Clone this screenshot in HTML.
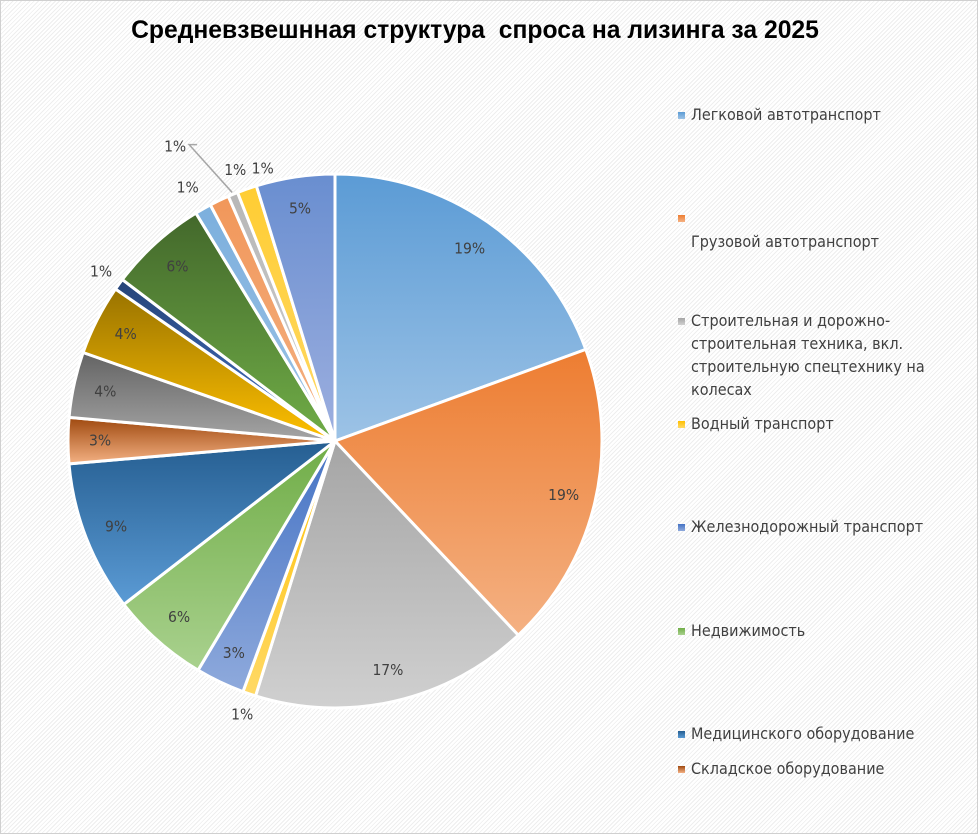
<!DOCTYPE html>
<html><head><meta charset="utf-8">
<style>
html,body{margin:0;padding:0;}
body{width:978px;height:834px;overflow:hidden;font-family:"Liberation Sans","DejaVu Sans",sans-serif;}
#chart{position:absolute;left:0;top:0;width:976px;height:832px;border:1px solid #d0d0d0;
background:repeating-linear-gradient(135deg,#ffffff 0px,#ffffff 2px,#eeeeee 2px,#eeeeee 3px);}
#title{position:absolute;left:0;width:948px;top:16px;text-align:center;font-weight:bold;font-size:24.7px;color:#000;}
.leg{position:absolute;left:677px;font-size:16px;color:#404040;line-height:25px;width:290px;font-family:"DejaVu Sans Condensed","Liberation Sans",sans-serif;}
.leg .mk{position:absolute;left:0;width:7px;height:7px;}
.leg .tx{position:absolute;left:13px;}
</style></head>
<body>
<div id="chart">
<div id="title">Средневзвешнная структура&nbsp; спроса на лизинга за 2025</div>
<svg id="pie" width="978" height="834" style="position:absolute;left:0;top:0"><defs id="defs"></defs></svg>

<div class="leg" style="top:101px"><span class="mk" style="top:10px;background:linear-gradient(#5b9bd5,#9dc3e6)"></span><span class="tx">Легковой автотранспорт</span></div>
<div class="leg" style="top:204px"><span class="mk" style="top:10px;background:linear-gradient(#ed7d31,#f4b183)"></span><span class="tx" style="top:24px">Грузовой автотранспорт</span></div>
<div class="leg" style="top:308px"><span class="mk" style="top:9px;background:linear-gradient(#a5a5a5,#d0d0d0)"></span><span class="tx" style="line-height:23px;width:262px">Строительная и дорожно-строительная техника, вкл. строительную спецтехнику на колесах</span></div>
<div class="leg" style="top:410px"><span class="mk" style="top:10px;background:linear-gradient(#ffc000,#ffd966)"></span><span class="tx">Водный транспорт</span></div>
<div class="leg" style="top:513px"><span class="mk" style="top:10px;background:linear-gradient(#4472c4,#8faadc)"></span><span class="tx">Железнодорожный транспорт</span></div>
<div class="leg" style="top:617px"><span class="mk" style="top:10px;background:linear-gradient(#70ad47,#a9d18e)"></span><span class="tx">Недвижимость</span></div>
<div class="leg" style="top:720px"><span class="mk" style="top:10px;background:linear-gradient(#255e91,#5b9bd5)"></span><span class="tx">Медицинского оборудование</span></div>
<div class="leg" style="top:755px"><span class="mk" style="top:10px;background:linear-gradient(#9e480e,#f4b183)"></span><span class="tx">Складское оборудование</span></div>
</div>
<script>
const categories=["Легковой автотранспорт","Грузовой автотранспорт","Строительная техника","Водный транспорт","Железнодорожный транспорт","Недвижимость","Медицинское оборудование","Складское оборудование","Категория 9","Категория 10","Категория 11","Категория 12","Категория 13","Категория 14","Категория 15","Категория 16","Категория 17"];
const values=[19.6,18.7,17.0,0.8,3.0,6.0,9.2,2.8,4.0,4.3,0.7,6.0,1.0,1.2,0.6,1.2,4.8];
const labels=["19%","19%","17%","1%","3%","6%","9%","3%","4%","4%","1%","6%","1%","1%","1%","1%","5%"];
const colorsTop=["#5b9bd5","#ed7d31","#a5a5a5","#ffc000","#4472c4","#70ad47","#255e91","#9e480e","#636363","#997300","#264478","#43682b","#7cafdd","#f1975a","#b7b7b7","#ffcd33","#698ed0"];
const colorsBot=["#9dc3e6","#f4b183","#d0d0d0","#ffd966","#8faadc","#a9d18e","#5b9bd5","#f4b183","#a5a5a5","#ffc000","#4472c4","#70ad47","#9dc3e6","#f4b183","#d0d0d0","#ffd966","#9dafdf"];
// label placement tweaks for crowded small slices (style only): [extra radius, angle shift in radians]
const labelNudge={12:[4,-0.01],13:[0,0.096],14:[45,-0.1],15:[-7,0.077]};
const svg=document.getElementById('pie'),defs=document.getElementById('defs'),NS="http://www.w3.org/2000/svg";
const cx=334,cy=440,R=267;
const total=values.reduce((a,b)=>a+b,0);
function pt(a,r){return [cx+r*Math.sin(a),cy-r*Math.cos(a)];}
let acc=0;
values.forEach((v,i)=>{
  const a0=acc/total*2*Math.PI;acc+=v;const a1=acc/total*2*Math.PI;
  const g=document.createElementNS(NS,'linearGradient');g.id='g'+i;g.setAttribute('x1','0');g.setAttribute('y1','0');g.setAttribute('x2','0');g.setAttribute('y2','1');
  g.innerHTML='<stop offset="0" stop-color="'+colorsTop[i]+'"/><stop offset="1" stop-color="'+colorsBot[i]+'"/>';
  defs.appendChild(g);
  const p0=pt(a0,R),p1=pt(a1,R);
  const path=document.createElementNS(NS,'path');
  path.setAttribute('d','M'+cx+','+cy+'L'+p0[0]+','+p0[1]+'A'+R+','+R+' 0 '+((a1-a0)>Math.PI?1:0)+' 1 '+p1[0]+','+p1[1]+'Z');
  path.setAttribute('fill','url(#g'+i+')');path.setAttribute('stroke','#fff');path.setAttribute('stroke-width','3');
  
  
  svg.appendChild(path);
});
acc=0;
values.forEach((v,i)=>{
  let am=(acc+v/2)/total*2*Math.PI;acc+=v;
  const small=v/total<0.015;
  let r=small?R+22:R*0.88;
  const nd=labelNudge[i];
  if(nd){r+=nd[0];am+=nd[1];}
  const p=pt(am,r);
  if(nd&&nd[0]>30){
    const e=pt((acc-v/2)/total*2*Math.PI,R+2);
    const ln=document.createElementNS(NS,'polyline');
    ln.setAttribute('points',e[0]+','+e[1]+' '+(p[0]+12)+','+(p[1]-2)+' '+(p[0]+20)+','+(p[1]-2));
    ln.setAttribute('fill','none');ln.setAttribute('stroke','#a6a6a6');ln.setAttribute('stroke-width','1.5');
    
    
    svg.appendChild(ln);
    p[0]-=2;
  }
  const t=document.createElementNS(NS,'text');
  t.setAttribute('x',p[0]);t.setAttribute('y',p[1]+5);t.setAttribute('text-anchor','middle');
  t.setAttribute('font-size','15.5');t.setAttribute('fill','#404040');
  t.setAttribute('font-family','"DejaVu Sans Condensed","Liberation Sans",sans-serif');
  t.textContent=labels[i];
  
  
  svg.appendChild(t);
});
</script>
</body></html>
